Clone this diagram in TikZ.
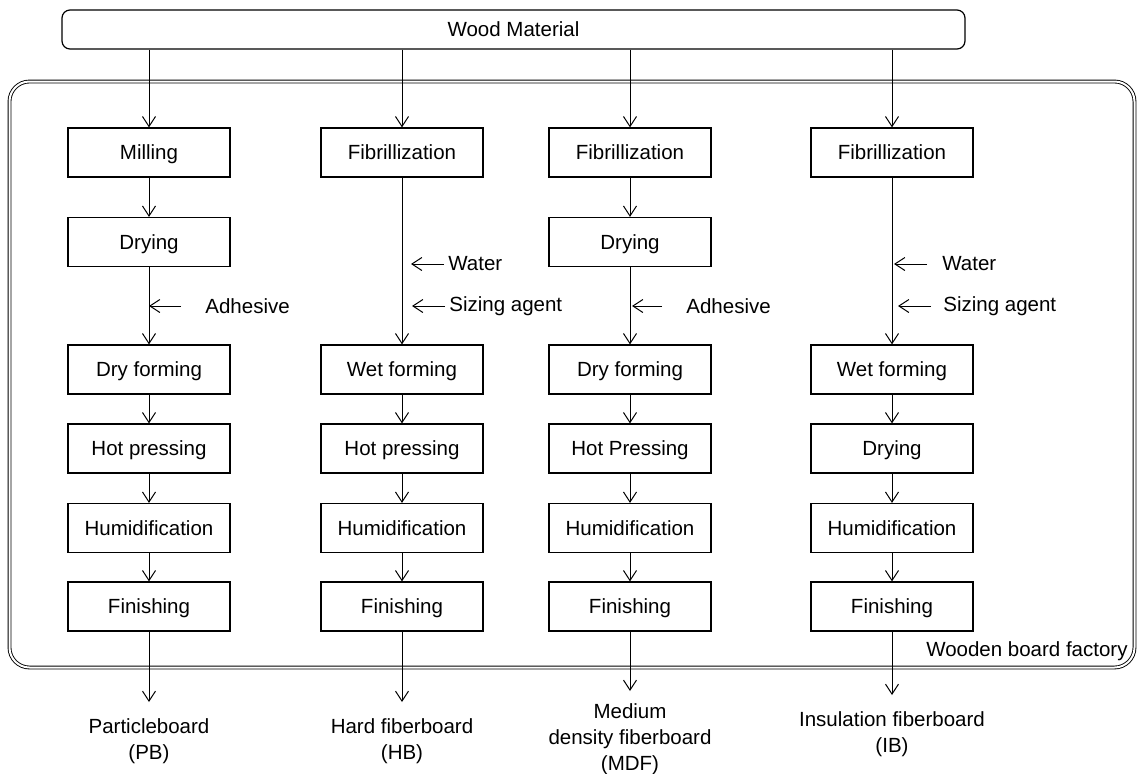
\documentclass[tikz,border=0pt]{standalone}
\usepackage{fontspec}
\setmainfont{Liberation Sans}
\usetikzlibrary{arrows.meta, positioning}

\begin{document}
\begin{tikzpicture}[
    x=0.5pt, y=-0.5pt,
    every node/.style={font=\fontsize{10.25pt}{13pt}\selectfont},
    source/.style={draw, line width=0.6pt, rounded corners=4pt, inner sep=0pt,
                   minimum width=451.5pt, minimum height=19.5pt},
    factory/.style={draw, line width=0.45pt, double, double distance=1pt,
                    rounded corners=10pt, inner sep=0pt,
                    minimum width=562.5pt, minimum height=293pt},
    stage/.style={draw, line width=0.6pt, inner sep=0pt,
                  text height=8.8pt, text depth=1.5pt,
                  minimum width=81pt, minimum height=24.5pt},
    additive/.style={anchor=west, inner sep=0pt},
    product/.style={anchor=north, align=center, inner xsep=0pt, inner ysep=8pt},
    arr/.style={-{Straight Barb[length=5pt, width=6.5pt]}, line width=0.5pt}
]
    \useasboundingbox (0,0) rectangle (1137,773);

    \node[source] (wood) at (513.5, 29.5) {Wood Material};
    \node[factory] (fac) at (572, 374.5) {};
    \node[inner sep=0pt, anchor=east] (facname) at (1128, 651) {Wooden board factory};

    % Column 1: particleboard
    \node[stage] (mill1) at (149, 152.5) {Milling};
    \node[stage] (dry1)  at (149, 242)   {Drying};
    \node[stage] (form1) at (149, 369.5) {Dry forming};
    \node[stage] (hot1)  at (149, 448.5) {Hot pressing};
    \node[stage] (hum1)  at (149, 528)   {Humidification};
    \node[stage] (fin1)  at (149, 606.5) {Finishing};
    \node[additive] (adh1) at (205, 306) {Adhesive};
    \node[product] (pb) at (149, 702) {Particleboard\\(PB)};

    % Column 2: hard fiberboard
    \node[stage] (fib2)  at (402, 152.5) {Fibrillization};
    \node[stage] (form2) at (402, 369.5) {Wet forming};
    \node[stage] (hot2)  at (402, 448.5) {Hot pressing};
    \node[stage] (hum2)  at (402, 528)   {Humidification};
    \node[stage] (fin2)  at (402, 606.5) {Finishing};
    \node[additive] (wat2) at (448, 264) {Water};
    \node[additive] (siz2) at (449, 306) {Sizing agent};
    \node[product] (hb) at (402, 702) {Hard fiberboard\\(HB)};

    % Column 3: medium density fiberboard
    \node[stage] (fib3)  at (630, 152.5) {Fibrillization};
    \node[stage] (dry3)  at (630, 242)   {Drying};
    \node[stage] (form3) at (630, 369.5) {Dry forming};
    \node[stage] (hot3)  at (630, 448.5) {Hot Pressing};
    \node[stage] (hum3)  at (630, 528)   {Humidification};
    \node[stage] (fin3)  at (630, 606.5) {Finishing};
    \node[additive] (adh3) at (686, 306) {Adhesive};
    \node[product, inner ysep=6pt] (mdf) at (630, 691) {Medium\\density fiberboard\\(MDF)};

    % Column 4: insulation fiberboard
    \node[stage] (fib4)  at (892, 152.5) {Fibrillization};
    \node[stage] (form4) at (892, 369.5) {Wet forming};
    \node[stage] (dry4)  at (892, 448.5) {Drying};
    \node[stage] (hum4)  at (892, 528)   {Humidification};
    \node[stage] (fin4)  at (892, 606.5) {Finishing};
    \node[additive] (wat4) at (942, 264) {Water};
    \node[additive] (siz4) at (943, 306) {Sizing agent};
    \node[product] (ib) at (892, 695) {Insulation fiberboard\\(IB)};

    % Wood material to each line
    \draw[arr] (wood.south -| mill1) -- (mill1);
    \draw[arr] (wood.south -| fib2) -- (fib2);
    \draw[arr] (wood.south -| fib3) -- (fib3);
    \draw[arr] (wood.south -| fib4) -- (fib4);

    % Process flow
    \draw[arr] (mill1) -- (dry1);
    \draw[arr] (dry1) -- (form1);
    \draw[arr] (form1) -- (hot1);
    \draw[arr] (hot1) -- (hum1);
    \draw[arr] (hum1) -- (fin1);
    \draw[arr] (fin1) -- (pb);

    \draw[arr] (fib2) -- (form2);
    \draw[arr] (form2) -- (hot2);
    \draw[arr] (hot2) -- (hum2);
    \draw[arr] (hum2) -- (fin2);
    \draw[arr] (fin2) -- (hb);

    \draw[arr] (fib3) -- (dry3);
    \draw[arr] (dry3) -- (form3);
    \draw[arr] (form3) -- (hot3);
    \draw[arr] (hot3) -- (hum3);
    \draw[arr] (hum3) -- (fin3);
    \draw[arr] (fin3) -- (mdf);

    \draw[arr] (fib4) -- (form4);
    \draw[arr] (form4) -- (dry4);
    \draw[arr] (dry4) -- (hum4);
    \draw[arr] (hum4) -- (fin4);
    \draw[arr] (fin4) -- (ib);

    % Additives
    \draw[arr] ([xshift=-12pt]adh1.west) -- (adh1.west -| dry1.south);
    \draw[arr, shorten >=4.5pt] ([xshift=-2pt]wat2.west) -- (wat2.west -| fib2.south);
    \draw[arr, shorten >=5pt] ([xshift=-2pt]siz2.west) -- (siz2.west -| fib2.south);
    \draw[arr, shorten >=1pt] ([xshift=-12pt]adh3.west) -- (adh3.west -| dry3.south);
    \draw[arr, shorten >=1pt] ([xshift=-7.5pt]wat4.west) -- (wat4.west -| fib4.south);
    \draw[arr, shorten >=3pt] ([xshift=-6pt]siz4.west) -- (siz4.west -| fib4.south);
\end{tikzpicture}
\end{document}
